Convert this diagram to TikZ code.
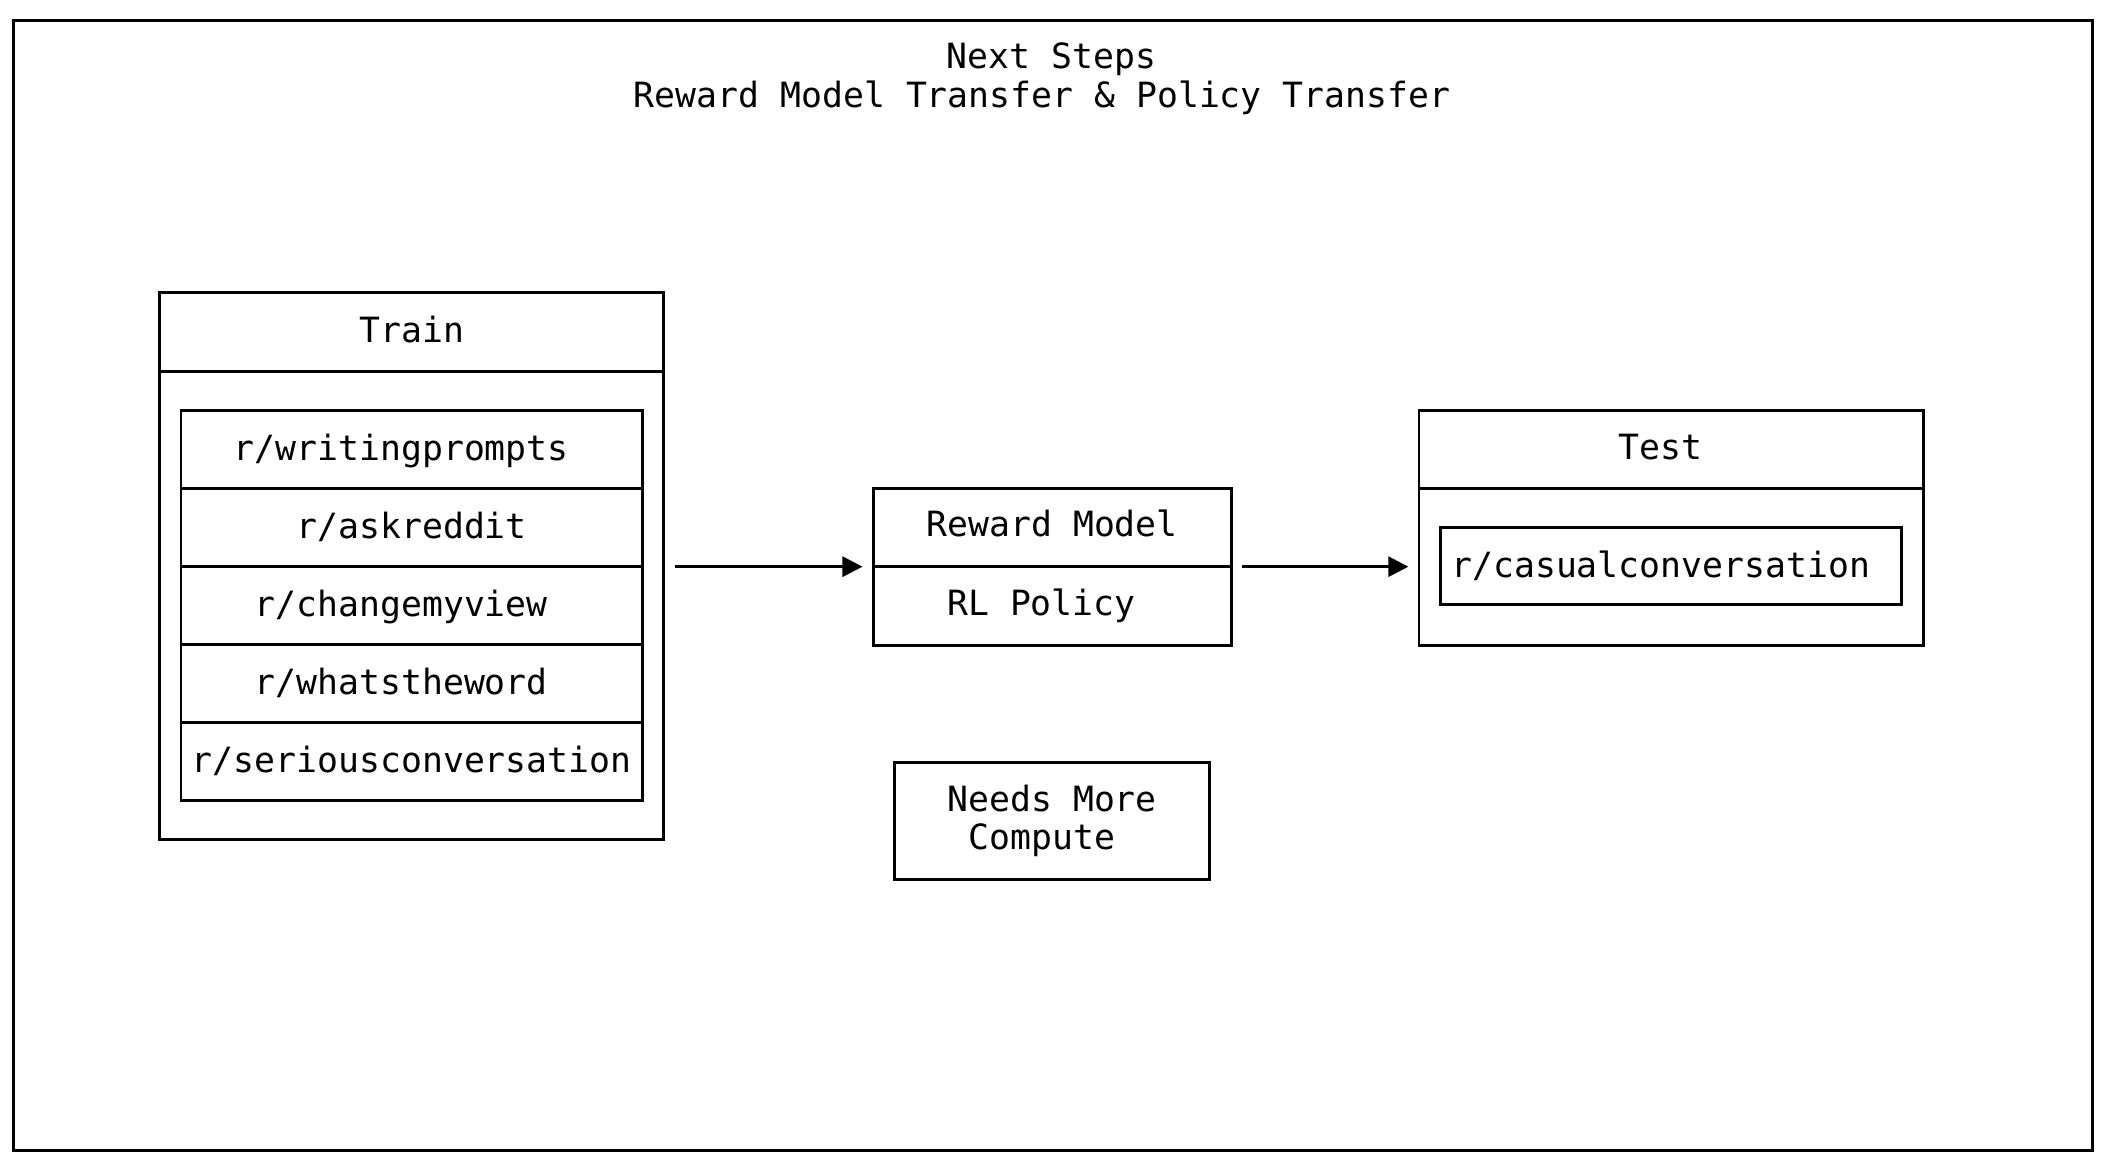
\documentclass[tikz,border=0pt]{standalone}
\usepackage{fontspec}
\setmainfont{DejaVu Sans Mono}
\usetikzlibrary{positioning, arrows.meta}

\begin{document}
\begin{tikzpicture}[x=0.2mm, y=-0.2mm, line width=1.2pt,
    font=\fontsize{14.75pt}{16.4pt}\selectfont,
    box/.style={draw, rectangle, inner sep=0pt},
    row/.style={box, minimum width=68.8mm, minimum height=11.6mm, text height=0.94em, text depth=0pt},
    label/.style={inner sep=0pt, text height=0.94em, text depth=0pt},
    arrow/.style={-{Triangle[length=8.5pt, width=8.5pt]}, shorten <=3.9pt, shorten >=3.9pt}]
    \useasboundingbox (0, 0) rectangle (1568, 875);

    % frame and title
    \node [box, minimum width=310mm, minimum height=168.6mm] (frame) at (785, 436.5) {};
    \node [label] (title) at (784, 43) {Next Steps};
    \node [label] (subtitle) at (777, 72) {Reward Model Transfer \& Policy Transfer};

    % train subreddits
    \node [box, minimum width=75.2mm, minimum height=81.6mm] (train) at (307, 422) {};
    \node [label] (train_title) at (307, 247) {Train};
    \draw (train.west |- 0,277) -- (train.east |- 0,277);
    \foreach \sub [count=\i] in {writingprompts\hphantom{x}, askreddit, changemyview\hphantom{x}, whatstheword\hphantom{x}, seriousconversation}
      \node [row] (sub_\i) at (307, {277 + 58.2*\i}) {r/\sub};

    % reward model / policy
    \node [box, minimum width=53.4mm, minimum height=23.4mm] (reward) at (784.5, 422.5) {};
    \draw (reward.west) -- (reward.east);
    \node [label] (reward_title) at (784.5, 392) {Reward Model};
    \node [label] (policy_title) at (776.5, 451) {RL Policy};

    \node [box, minimum width=47mm, minimum height=17.4mm, align=center] (compute) at (784.5, 612) {Needs More\\Compute\hphantom{x}};

    % test subreddit
    \node [box, minimum width=75.2mm, minimum height=35mm] (test) at (1246, 393.5) {};
    \node [label] (test_title) at (1238, 334) {Test};
    \draw (test.west |- 0,364) -- (test.east |- 0,364);
    \node [row] (test_sub) at (1246, 422) {r/casualconversation\hphantom{x}};

    \draw [arrow] (reward.west -| train.east) -- (reward.west);
    \draw [arrow] (reward.east) -- (reward.east -| test.west);
  \end{tikzpicture}
\end{document}
